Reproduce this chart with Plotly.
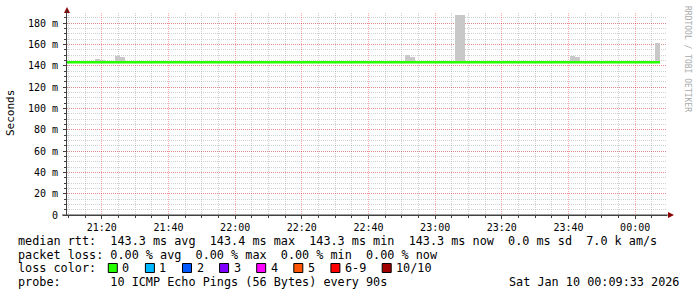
import plotly.graph_objects as go

# ---------------- data ----------------
x_start = "2026-01-09 21:09:33"
x_end = "2026-01-10 00:09:33"

median_times = ["2026-01-09 21:09:33", "2026-01-10 00:07:27"]
median_rtt_ms = [143.3, 143.3]

smoke_times = [
    "2026-01-09 21:18:42", "2026-01-09 21:20:12",
    "2026-01-09 21:24:42", "2026-01-09 21:26:12",
    "2026-01-09 22:51:42", "2026-01-09 22:53:12",
    "2026-01-09 23:06:42", "2026-01-09 23:08:12",
    "2026-01-09 23:41:12", "2026-01-09 23:42:42",
    "2026-01-10 00:06:42",
]
smoke_top_ms = [146.2, 145.5, 149.0, 148.0, 150.0, 148.0, 187.5, 187.5, 149.0, 148.0, 161.0]
smoke_base_ms = 143.0

y_tickvals = [0, 20, 40, 60, 80, 100, 120, 140, 160, 180]
y_ticktext = ["0", "20 m", "40 m", "60 m", "80 m", "100 m", "120 m", "140 m", "160 m", "180 m"]

legend_rtt = "median rtt:  143.3 ms avg  143.4 ms max  143.3 ms min  143.3 ms now  0.0 ms sd  7.0 k am/s"
legend_loss = "packet loss: 0.00 % avg  0.00 % max  0.00 % min  0.00 % now"
legend_color_title = "loss color:"
loss_labels = ["0", "1", "2", "3", "4", "5", "6-9", "10/10"]
loss_colors = ["#26ff00", "#00b8ff", "#0059ff", "#7e00ff", "#ff00ff", "#ff5500", "#ff0000", "#a00000"]
legend_probe = "probe:       10 ICMP Echo Pings (56 Bytes) every 90s"
legend_date = "Sat Jan 10 00:09:33 2026"
watermark = "RRDTOOL / TOBI OETIKER"

# ---------------- layout helpers ----------------
W, H = 697, 297
L, R, T, B = 67, 667, 13, 215
PW, PH = R - L, B - T
MONO = "DejaVu Sans Mono"


def px(x):
    return (x - L) / PW


def py(y):
    return (B - y) / PH


def nb(s):
    return s.replace(" ", "\u00a0")


fig = go.Figure()

fig.add_trace(go.Bar(
    x=smoke_times,
    y=[t - smoke_base_ms for t in smoke_top_ms],
    base=smoke_base_ms,
    width=90000,
    marker=dict(color="#c8c8c8", line=dict(width=0)),
    hoverinfo="skip",
    showlegend=False,
))

fig.add_trace(go.Scatter(
    x=median_times,
    y=median_rtt_ms,
    mode="lines",
    line=dict(color=loss_colors[0], width=2.5, shape="hv"),
    showlegend=False,
))

major_grid = "rgba(255,0,0,0.33)"
minor_grid = "rgba(150,150,150,0.45)"

fig.update_layout(
    width=W, height=H, autosize=False,
    margin=dict(l=L, r=W - R, t=T, b=H - B, pad=0),
    paper_bgcolor="white", plot_bgcolor="white",
    bargap=0,
    font=dict(family=MONO, size=10, color="black"),
    xaxis=dict(
        type="date",
        range=[x_start, x_end],
        tick0="2026-01-09 21:20:00",
        dtick=1200000,
        tickformat="%H:%M",
        showgrid=True, gridcolor=major_grid, griddash="1px,1px", gridwidth=1,
        showline=True, linecolor="#404040", linewidth=1,
        ticks="outside", ticklen=3, tickcolor="#404040",
        tickfont=dict(family=MONO, size=10, color="black"),
        minor=dict(dtick=300000, showgrid=True, gridcolor=minor_grid, griddash="1px,1px",
                   ticks="outside", ticklen=2, tickcolor="#404040"),
        zeroline=False, fixedrange=True,
    ),
    yaxis=dict(
        range=[0, PH / (192 / 180)],
        tickvals=y_tickvals, ticktext=y_ticktext,
        showgrid=True, gridcolor=major_grid, griddash="1px,1px", gridwidth=1,
        showline=True, linecolor="#404040", linewidth=1,
        ticks="outside", ticklen=3, tickcolor="#404040",
        ticklabelstandoff=3,
        tickfont=dict(family=MONO, size=10, color="black"),
        minor=dict(dtick=5, showgrid=True, gridcolor=minor_grid, griddash="1px,1px",
                   ticks="outside", ticklen=2, tickcolor="#404040"),
        zeroline=False, fixedrange=True,
    ),
)

shapes = []
arrow_col = "#8b0000"
# up arrow on the y axis
shapes.append(dict(type="path", xref="paper", yref="paper",
                   path=f"M {px(64)} {py(13)} L {px(70)} {py(13)} L {px(67)} {py(7)} Z",
                   fillcolor=arrow_col, line=dict(width=0)))
# right arrow on the x axis
shapes.append(dict(type="path", xref="paper", yref="paper",
                   path=f"M {px(668)} {py(212)} L {px(668)} {py(218)} L {px(674)} {py(215)} Z",
                   fillcolor=arrow_col, line=dict(width=0)))
# axis extensions
shapes.append(dict(type="line", xref="paper", yref="paper", x0=px(62), x1=px(668), y0=0, y1=0,
                   line=dict(color="#404040", width=1)))
shapes.append(dict(type="line", xref="paper", yref="paper", x0=0, x1=0, y0=1, y1=py(10),
                   line=dict(color="#404040", width=1)))

annotations = []


def add_text(text, x, y, xanchor="left", size=11.8, color="black", angle=0):
    annotations.append(dict(text=nb(text), x=px(x), y=py(y), xref="paper", yref="paper",
                            xanchor=xanchor, yanchor="middle", showarrow=False,
                            textangle=angle,
                            font=dict(family=MONO, size=size, color=color)))


add_text(legend_rtt, 16, 241)
add_text(legend_loss, 16, 255)
add_text(legend_color_title, 16, 268)
add_text(legend_probe, 16, 282)
add_text(legend_date, 681, 282, xanchor="right")

# loss colour boxes
cw = 7.1
bx = 108.3
for lab, col in zip(loss_labels, loss_colors):
    shapes.append(dict(type="rect", xref="paper", yref="paper",
                       x0=px(bx), x1=px(bx + 9), y0=py(272.5), y1=py(263.5),
                       fillcolor=col, line=dict(color="black", width=1)))
    add_text(lab, bx + 12, 268)
    bx += 37.1 + (len(lab) - 1) * cw

# y axis title and watermark
annotations.append(dict(text="Seconds", x=px(10), y=py(113), xref="paper", yref="paper",
                        xanchor="center", yanchor="middle", showarrow=False, textangle=-90,
                        font=dict(family=MONO, size=11, color="black")))
annotations.append(dict(text=nb(watermark), x=px(687), y=py(59), xref="paper", yref="paper",
                        xanchor="center", yanchor="middle", showarrow=False, textangle=90,
                        font=dict(family=MONO, size=8, color="#aaaaaa")))

fig.update_layout(shapes=shapes, annotations=annotations)

fig.write_html("out.html", config={"displayModeBar": False})
